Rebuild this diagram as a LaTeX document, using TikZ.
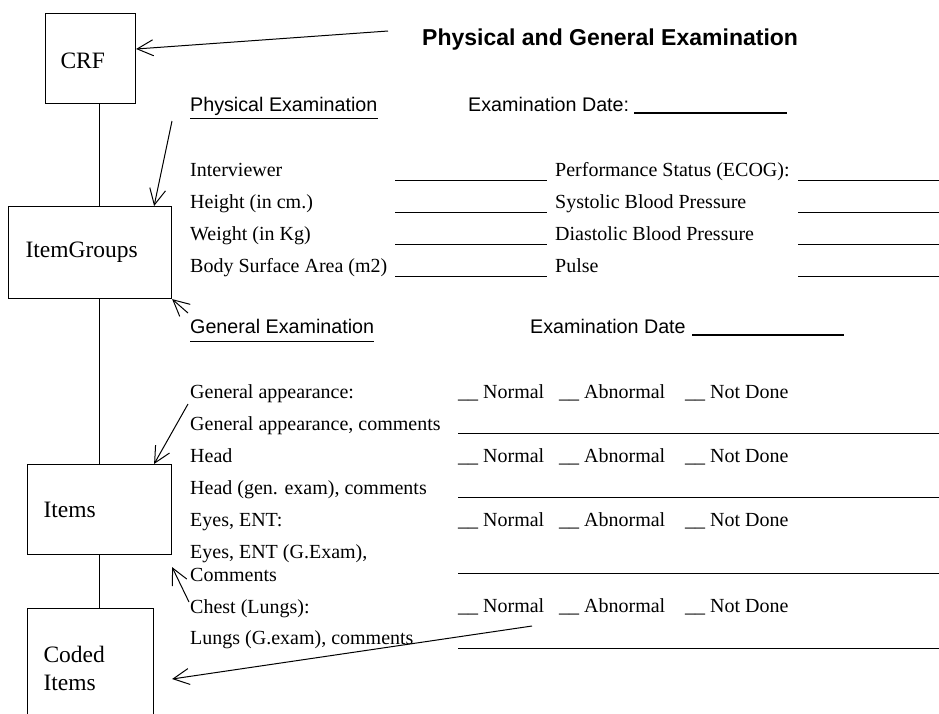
\documentclass[tikz,border=0pt]{standalone}
\usepackage{fontspec}
\setmainfont{Liberation Serif}
\newfontfamily\arial{Liberation Sans}
\usetikzlibrary{arrows.meta}
\tikzset{
  boxnode/.style={draw, line width=1.1pt, anchor=north west, align=left,
    inner ysep=0pt, font=\fontsize{23.5}{28}\selectfont},
  lbl/.style={anchor=base west, inner sep=0pt, font=\fontsize{20}{24}\selectfont},
  albl/.style={anchor=base west, inner sep=0pt, font=\arial\fontsize{19.7}{24}\selectfont},
  arr/.style={line width=1pt, -{Straight Barb[length=16pt,width=16pt]}},
  fline/.style={line width=1pt},
  dline/.style={line width=1.8pt},
  spine/.style={line width=0.9pt}
}
\begin{document}
\begin{tikzpicture}[x=1pt,y=-1pt]
\clip (0,0) rectangle (939,713);
\useasboundingbox (0,0) rectangle (939,713);

% boxes
\node[boxnode, inner xsep=15pt, text width=60pt, minimum height=90pt, text height=20pt, text depth=0pt] (crf) at (45,13) {CRF};
\node[boxnode, inner xsep=17pt, text width=129pt, minimum height=92pt] (ig) at (8,206) {ItemGroups};
\node[boxnode, inner xsep=16pt, text width=112pt, minimum height=90pt] (items) at (27,464) {Items};
\node[boxnode, inner xsep=16pt, text width=94pt, minimum height=120pt] (coded) at (27,608) {Coded\\Items};

% spine
\coordinate (sp) at (99,0);
\draw[spine] (crf.south -| sp) -- (ig.north -| sp);
\draw[spine] (ig.south -| sp) -- (items.north -| sp);
\draw[spine] (items.south -| sp) -- (coded.north -| sp);

% title
\node[anchor=base west, inner sep=0pt, font=\arial\bfseries\fontsize{23}{27}\selectfont] (title) at (422,45) {Physical and General Examination};

% physical examination header
\node[albl] (pe) at (190,111) {Physical Examination};
\draw[fline] ([yshift=-7.5pt]pe.base west) -- ([yshift=-7.5pt]pe.base east);
\node[albl] (ed1) at (468,111) {Examination Date:};
\draw[dline] (634,113) -- (787,113);

% physical rows
\node[lbl] (r1) at (190,176) {Interviewer};
\node[lbl] (r2) at (190,208) {Height (in cm.)};
\node[lbl] (r3) at (190,240) {Weight (in Kg)};
\node[lbl] (r4) at (190,272) {Body Surface Area (m2)};
\node[lbl] (s1) at (555,176) {Performance Status (ECOG):};
\node[lbl] (s2) at (555,208) {Systolic Blood Pressure};
\node[lbl] (s3) at (555,240) {Diastolic Blood Pressure};
\node[lbl] (s4) at (555,272) {Pulse};
\foreach \y in {180,212,244,276}{
  \draw[fline] (395,\y) -- (547,\y);
  \draw[fline] (798,\y) -- (939,\y);
}

% general examination header
\node[albl] (ge) at (190,333) {General Examination};
\draw[fline] ([yshift=-8pt]ge.base west) -- ([yshift=-8pt]ge.base east);
\node[albl] (ed2) at (530,333) {Examination Date};
\draw[dline] (692,335) -- (844,335);

% general rows
\node[lbl] (g1) at (190,398) {General appearance:};
\node[lbl] (g2) at (190,430) {General appearance, comments};
\node[lbl] (g3) at (190,462) {Head};
\node[lbl] (g4) at (190,494) {Head (gen. exam), comments};
\node[lbl] (g5) at (190,526) {Eyes, ENT:};
\node[lbl] (g6) at (190,558) {Eyes, ENT (G.Exam),};
\node[lbl] (g7) at (190,581) {Comments};
\node[lbl] (g8) at (190,613) {Chest (Lungs):};
\node[lbl] (g9) at (190,644) {Lungs (G.exam), comments};

\foreach \y in {398,462,526,612}{
  \node[lbl] at (458,\y) {\_\_ Normal};
  \node[lbl] at (559,\y) {\_\_ Abnormal};
  \node[lbl] at (685,\y) {\_\_ Not Done};
}
\foreach \y in {433,497,573,648}{
  \draw[fline] (458,\y) -- (939,\y);
}

% arrows
\coordinate (a1) at (388,31);
\coordinate (a2) at (172,121);
\coordinate (a3) at (188,313);
\coordinate (a4) at (188,404);
\coordinate (a5) at (189,602);
\coordinate (a6) at (532,626);
\draw[arr] (a1) -- ([yshift=-36pt]crf.north east);
\draw[arr] (a2) -- ([xshift=-18pt]ig.north east);
\draw[arr] (a3) -- (ig.south east);
\draw[arr] (a4) -- ([xshift=-18pt]items.north east);
\draw[arr] (a5) -- ([yshift=-12pt]items.south east);
\draw[arr] (a6) -- ([xshift=18pt,yshift=-71pt]coded.north east);
\end{tikzpicture}
\end{document}
